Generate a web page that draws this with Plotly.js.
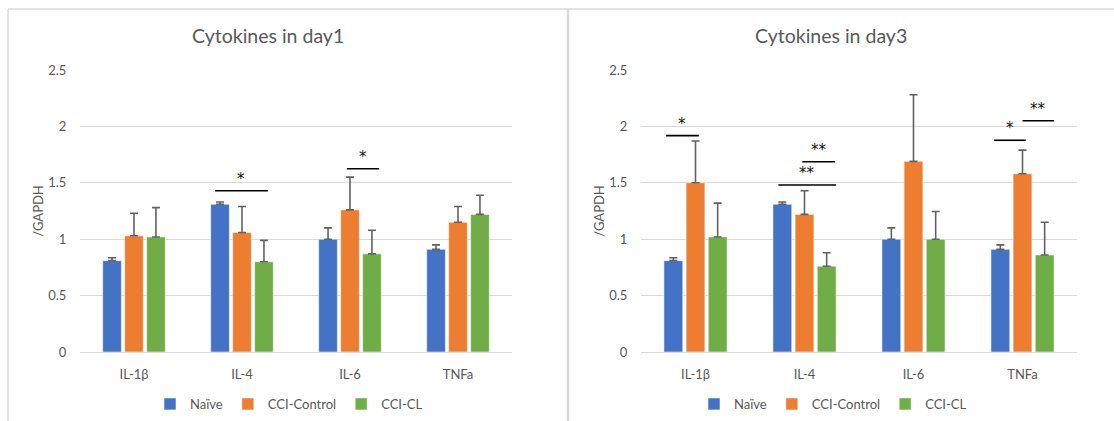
<!DOCTYPE html>
<html>
<head>
<meta charset="utf-8">
<script src="https://cdn.plot.ly/plotly-3.0.1.min.js"></script>
<style>html,body{margin:0;padding:0;background:#fff;}#chart{width:1114px;height:421px;}</style>
</head>
<body>
<div id="chart"></div>
<script>
// ---- data ----
const categories = ["IL-1β", "IL-4", "IL-6", "TNFa"];
const seriesNames = ["Naïve", "CCI-Control", "CCI-CL"];

const day1Naive   = [0.81, 1.31, 1.00, 0.91];
const day1Control = [1.03, 1.06, 1.26, 1.15];
const day1CL      = [1.02, 0.80, 0.87, 1.22];
const day1NaiveErr   = [0.025, 0.02, 0.10, 0.04];
const day1ControlErr = [0.20, 0.23, 0.29, 0.14];
const day1CLErr      = [0.26, 0.19, 0.21, 0.17];

const day3Naive   = [0.81, 1.31, 1.00, 0.91];
const day3Control = [1.50, 1.22, 1.69, 1.58];
const day3CL      = [1.02, 0.76, 1.00, 0.86];
const day3NaiveErr   = [0.025, 0.02, 0.10, 0.04];
const day3ControlErr = [0.37, 0.21, 0.59, 0.21];
const day3CLErr      = [0.30, 0.12, 0.245, 0.29];

// significance brackets: [start, end] in category units, height, label
const day1SigStart = [0.75, 1.97];
const day1SigEnd   = [1.24, 2.27];
const day1SigY     = [1.43, 1.625];
const day1SigLabel = ["*", "*"];

const day3SigStart = [-0.27, 0.98, 0.76, 2.74, 3.00];
const day3SigEnd   = [0.03, 1.28, 1.29, 3.03, 3.29];
const day3SigY     = [1.918, 1.687, 1.48, 1.877, 2.05];
const day3SigLabel = ["*", "**", "**", "*", "**"];

// ---- styles ----
const colors = ["#4472C4", "#ED7D31", "#70AD47"];
const textColor = "#595959";
const gridColor = "#D9D9D9";
const FONT = "Lato, 'Open Sans', sans-serif";

function barTrace(name, vals, errs, color, xa, ya, legend) {
  return {
    type: "bar", name: name, x: categories, y: vals,
    xaxis: xa, yaxis: ya, legend: legend,
    marker: { color: color, line: { color: "rgba(255,255,255,0.55)", width: 1 } },
    error_y: { type: "data", symmetric: false, array: errs,
               arrayminus: errs.map(() => 0), color: "#626262",
               thickness: 1.6, width: 4 },
    hoverinfo: "skip"
  };
}

const traces = [
  barTrace(seriesNames[0], day1Naive, day1NaiveErr, colors[0], "x", "y", "legend"),
  barTrace(seriesNames[1], day1Control, day1ControlErr, colors[1], "x", "y", "legend"),
  barTrace(seriesNames[2], day1CL, day1CLErr, colors[2], "x", "y", "legend"),
  barTrace(seriesNames[0], day3Naive, day3NaiveErr, colors[0], "x2", "y2", "legend2"),
  barTrace(seriesNames[1], day3Control, day3ControlErr, colors[1], "x2", "y2", "legend2"),
  barTrace(seriesNames[2], day3CL, day3CLErr, colors[2], "x2", "y2", "legend2")
];

const W = 1114, H = 421;
const px = v => v / W, py = v => 1 - v / H;

const shapes = [
  { type: "line", xref: "paper", yref: "paper", x0: px(8), x1: px(8), y0: py(9), y1: py(430), line: { color: "#DADADA", width: 1.5 } },
  { type: "line", xref: "paper", yref: "paper", x0: px(8), x1: px(1114), y0: py(9), y1: py(9), line: { color: "#DADADA", width: 1.5 } },
  { type: "line", xref: "paper", yref: "paper", x0: px(568), x1: px(568), y0: py(9), y1: py(430), line: { color: "#DADADA", width: 2.5 } }
];
const annotations = [];

function addSig(starts, ends, ys, labels, xa, ya) {
  for (let i = 0; i < starts.length; i++) {
    shapes.push({ type: "line", xref: xa, yref: ya, x0: starts[i], x1: ends[i], y0: ys[i], y1: ys[i],
                  line: { color: "#000", width: 1.6 } });
    annotations.push({ xref: xa, yref: ya, x: (starts[i] + ends[i]) / 2, y: ys[i],
                       text: labels[i], showarrow: false, xanchor: "center", yanchor: "middle", yshift: 12,
                       font: { family: "'DejaVu Sans', sans-serif", size: 15, color: "#111" } });
  }
}
addSig(day1SigStart, day1SigEnd, day1SigY, day1SigLabel, "x", "y");
addSig(day3SigStart, day3SigEnd, day3SigY, day3SigLabel, "x2", "y2");

// titles
annotations.push({ xref: "paper", yref: "paper", x: px(268), y: py(35), xanchor: "center", yanchor: "middle",
                   text: "Cytokines in day1",
                   showarrow: false, font: { family: FONT, size: 19.5, color: textColor } });
annotations.push({ xref: "paper", yref: "paper", x: px(831), y: py(35), xanchor: "center", yanchor: "middle",
                   text: "Cytokines in day3",
                   showarrow: false, font: { family: FONT, size: 19.5, color: textColor } });

const yaxisBase = {
  range: [0, 2.5], dtick: 0.5, tick0: 0, showgrid: true, gridcolor: gridColor, gridwidth: 1,
  zeroline: true, zerolinecolor: gridColor, zerolinewidth: 1, showline: false,
  ticks: "outside", ticklen: 10, tickcolor: "rgba(0,0,0,0)",
  tickfont: { family: FONT, size: 13, color: textColor },
  title: { text: "/GAPDH", standoff: 1, font: { family: FONT, size: 13, color: textColor } },
  domain: [1 - 352 / H, 1 - 70 / H], fixedrange: true
};
const xaxisBase = {
  type: "category", showgrid: false, zeroline: false, showline: false,
  ticks: "outside", ticklen: 10, tickcolor: "rgba(0,0,0,0)",
  tickfont: { family: FONT, size: 13, color: textColor }, fixedrange: true
};

const legendBase = {
  orientation: "h", xanchor: "center", yanchor: "middle", y: py(404),
  font: { family: FONT, size: 13, color: textColor }, bgcolor: "rgba(0,0,0,0)",
  itemwidth: 30, tracegroupgap: 0, traceorder: "normal"
};

const layout = {
  width: W, height: H, margin: { l: 0, r: 0, t: 0, b: 0 },
  paper_bgcolor: "#fff", plot_bgcolor: "#fff",
  barmode: "group", bargap: 0.39, bargroupgap: 0.15,
  showlegend: true,
  xaxis: Object.assign({}, xaxisBase, { domain: [px(80), px(512)], anchor: "y" }),
  yaxis: Object.assign({}, yaxisBase, { anchor: "x" }),
  xaxis2: Object.assign({}, xaxisBase, { domain: [px(641), px(1077)], anchor: "y2" }),
  yaxis2: Object.assign({}, yaxisBase, { anchor: "x2" }),
  legend: Object.assign({}, legendBase, { x: px(289) }),
  legend2: Object.assign({}, legendBase, { x: px(833) }),
  shapes: shapes, annotations: annotations
};

Plotly.newPlot("chart", traces, layout, { displayModeBar: false, staticPlot: true });
</script>
</body>
</html>
